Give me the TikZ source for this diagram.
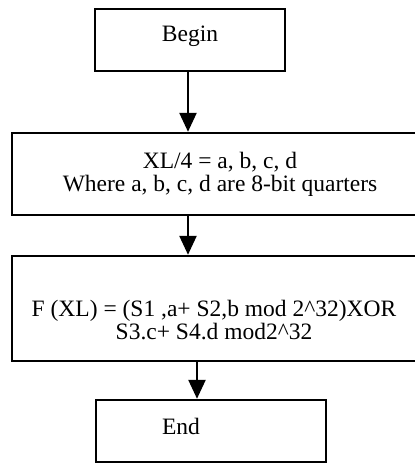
\documentclass[tikz,border=0pt]{standalone}
\usepackage{fontspec}
\setmainfont{Liberation Serif}
\usepackage{tikz}
\usetikzlibrary{arrows.meta,positioning}

\begin{document}
\begin{tikzpicture}[x=1pt, y=-1pt,
  stepbox/.style={draw=black, line width=2.4pt, inner sep=0pt},
  steptext/.style={font=\fontsize{23.5}{23}\selectfont, align=center, inner sep=0pt},
  flow/.style={line width=2.4pt, -{Triangle[length=19pt, width=17pt]}},
]
\useasboundingbox (0,0) rectangle (415,464);
\begin{scope}
\clip (0,0) rectangle (415,464);
% boxes
\node[stepbox, minimum width=190pt, minimum height=62pt] (begin) at (190,40) {};
\node[stepbox, minimum width=416pt, minimum height=82pt] (quarter) at (220,174) {};
\node[stepbox, minimum width=416pt, minimum height=105pt] (fx) at (220,308.5) {};
\node[stepbox, minimum width=230pt, minimum height=62pt] (finish) at (211,431) {};
\end{scope}
% texts
\node[steptext] (begintxt) at (190,36) {Begin};
\node[steptext] (quartertxt) at (220,174) {XL/4 = a, b, c, d\\Where a, b, c, d are 8-bit quarters};
\node[steptext] (fxtxt) at (214,320) {F (XL) = (S1 ,a+ S2,b mod 2\textasciicircum32)XOR\\S3.c+ S4.d mod2\textasciicircum32};
\node[steptext] (finishtxt) at (181,426) {End};
% arrows
\draw[flow] ([xshift=-2pt]begin.south) -- ([xshift=-2pt]begin.south |- quarter.north);
\draw[flow] ([xshift=-32pt]quarter.south) -- ([xshift=-32pt]quarter.south |- fx.north);
\draw[flow] ([xshift=-23pt]fx.south) -- ([xshift=-23pt]fx.south |- finish.north);
\end{tikzpicture}
\end{document}
